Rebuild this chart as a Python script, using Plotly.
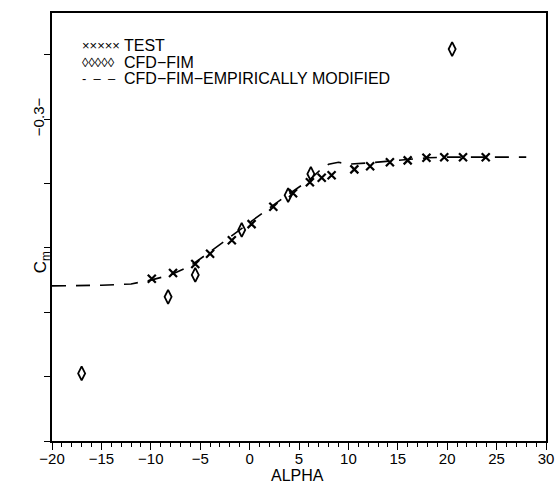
import plotly.graph_objects as go

# ---- data ----
test_alpha = [-9.9, -7.75, -5.5, -4.0, -1.8, 0.2, 2.4, 4.4, 6.1, 7.3, 8.3,
              10.6, 12.2, 14.2, 16.0, 17.9, 19.7, 21.6, 23.9]
test_cm = [-0.548, -0.539, -0.525, -0.509, -0.488, -0.463, -0.436, -0.415, -0.398, -0.391, -0.387,
           -0.378, -0.373, -0.367, -0.364, -0.360, -0.359, -0.359, -0.359]

fim_alpha = [-17.0, -8.25, -5.5, -0.8, 3.9, 6.2, 20.5]
fim_cm = [-0.695, -0.576, -0.542, -0.472, -0.418, -0.385, -0.191]

mod_alpha = [-20, -15, -12, -10, -8, -6, -4, -2, 0, 2, 4, 6, 7, 8, 9, 10, 12, 14, 16, 18, 20, 28]
mod_cm = [-0.559, -0.558, -0.556, -0.550, -0.542, -0.528, -0.506, -0.483, -0.460, -0.438, -0.416,
          -0.395, -0.381, -0.370, -0.367, -0.370, -0.368, -0.365, -0.362, -0.360, -0.359, -0.359]

y_ticks = [-0.8, -0.7, -0.6, -0.5, -0.4, -0.3, -0.2]
y_ticktext = ["", "", "", "", "", "\u22120.3\u2212", ""]

legend_labels = ["TEST", "CFD\u2212FIM", "CFD\u2212FIM\u2212EMPIRICALLY MODIFIED"]
legend_symbols = ["\u00d7\u00d7\u00d7\u00d7\u00d7", "\u25ca\u25ca\u25ca\u25ca\u25ca", "-  \u2013  \u2013"]

FONT = "Liberation Sans, Arial, sans-serif"

fig = go.Figure()
fig.add_trace(go.Scatter(x=mod_alpha, y=mod_cm, mode="lines",
                         line=dict(color="black", width=1.6, dash="14px,10px"),
                         showlegend=False))
fig.add_trace(go.Scatter(x=test_alpha, y=test_cm, mode="markers",
                         marker=dict(symbol="x-thin", size=8, line=dict(color="black", width=2.2)),
                         showlegend=False))
fig.add_trace(go.Scatter(x=fim_alpha, y=fim_cm, mode="markers",
                         marker=dict(symbol="diamond-tall-open", size=10, color="black",
                                     line=dict(color="black", width=1.8)),
                         showlegend=False))

# legend drawn as text
rows_y = [0.923, 0.8855, 0.8458]
sym_sizes = [13, 13, 13]
for lab, sym, yy, ss in zip(legend_labels, legend_symbols, rows_y, sym_sizes):
    fig.add_annotation(xref="paper", yref="paper", x=0.0567, y=yy, text=sym, showarrow=False,
                       xanchor="left", yanchor="middle", font=dict(family=FONT, size=ss, color="black"))
    fig.add_annotation(xref="paper", yref="paper", x=0.1417, y=yy, text=lab, showarrow=False,
                       xanchor="left", yanchor="middle", font=dict(family=FONT, size=16, color="black"))

# axis titles
fig.add_annotation(xref="paper", yref="paper", x=-0.02, y=0.418, text="C<sub>m</sub>",
                   textangle=-90, showarrow=False, xanchor="center", yanchor="middle",
                   font=dict(family=FONT, size=17, color="black"))
fig.add_annotation(xref="paper", yref="paper", x=0.496, y=-0.105, text="ALPHA",
                   showarrow=False, xanchor="center", yanchor="bottom",
                   font=dict(family=FONT, size=16, color="black"))

fig.update_layout(
    width=560, height=486,
    margin=dict(l=52, r=14, t=13, b=45, autoexpand=False),
    paper_bgcolor="white", plot_bgcolor="white",
    font=dict(family=FONT, color="black"),
    showlegend=False,
)
fig.update_xaxes(range=[-20, 30], tick0=-20, dtick=5, showgrid=False, zeroline=False,
                 automargin=False,
                 showline=True, mirror=True, linecolor="black", linewidth=1.5,
                 ticks="outside", ticklen=7, tickwidth=1.3, tickcolor="black",
                 minor=dict(dtick=1, ticks="outside", ticklen=4, tickwidth=1.2, tickcolor="black"),
                 ticklabelstandoff=-4,
                 tickfont=dict(family=FONT, size=15, color="black"))
fig.update_yaxes(range=[-0.8, -0.135], tickvals=y_ticks, ticktext=y_ticktext, tickangle=-90,
                 showgrid=False, zeroline=False, automargin=False,
                 showline=True, mirror=True, linecolor="black", linewidth=1.5,
                 ticks="outside", ticklen=6, tickwidth=1.3, tickcolor="black",
                 ticklabelstandoff=-6,
                 tickfont=dict(family=FONT, size=15, color="black"))

fig.write_html("out.html", config={"displayModeBar": False},
               post_script="document.body.style.margin='0px';")
